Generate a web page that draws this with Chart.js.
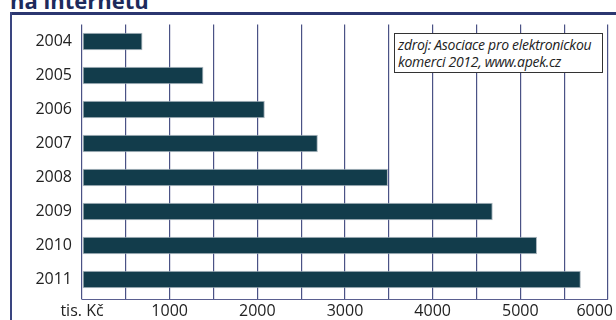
<!DOCTYPE html>
<html><head><meta charset="utf-8">
<script src="https://cdn.jsdelivr.net/npm/chart.js@4/dist/chart.umd.min.js"></script>
<style>
html,body{margin:0;padding:0;background:#fff;overflow:hidden}
#wrap{position:relative;width:616px;height:320px;overflow:hidden;background:#fff}
#title{position:absolute;left:10px;top:-11.5px;font:bold 22px 'Open Sans';line-height:1;color:#1d2a5c;white-space:nowrap}
#frameTop{position:absolute;left:10px;top:12px;width:606px;height:3px;background:#2b3670}
#frameLeft{position:absolute;left:10px;top:12px;width:1.5px;height:308px;background:#3a4580}
canvas{position:absolute;left:0;top:0}
#src{position:absolute;left:394px;top:33px;width:209px;height:40px;border:1px solid #333;background:#fff;font:italic 14px 'Open Sans';line-height:17px;color:#222;padding:2px 0 0 3px;box-sizing:border-box;white-space:nowrap;letter-spacing:-0.3px}
</style></head>
<body><div id="wrap">
<div id="title">na internetu</div>
<div id="frameTop"></div><div id="frameLeft"></div>
<canvas id="c" width="616" height="320"></canvas>
<div id="src">zdroj: Asociace pro elektronickou<br>komerci 2012, www.apek.cz</div>
</div>
<script>
const years = ['2004','2005','2006','2007','2008','2009','2010','2011'];
const values = [690, 1385, 2085, 2690, 3490, 4685, 5190, 5690];
const tickValues = [0, 1000, 2000, 3000, 4000, 5000, 6000];
const tickLabels = ['tis. Kč', '1000', '2000', '3000', '4000', '5000', '6000'];

const xLabelsPlugin = {
  id: 'xLabels',
  afterDraw(chart) {
    const ctx = chart.ctx, xs = chart.scales.x, area = chart.chartArea;
    ctx.save();
    ctx.strokeStyle = '#5a5f90';
    ctx.lineWidth = 1.2;
    ctx.beginPath();
    ctx.moveTo(area.left, area.bottom + 3);
    ctx.lineTo(area.right, area.bottom + 3);
    ctx.stroke();
    ctx.font = '16px "Open Sans"';
    ctx.fillStyle = '#222';
    ctx.textBaseline = 'middle';
    ctx.textAlign = 'center';
    tickValues.forEach((v, i) => {
      const t = tickLabels[i];
      let x = xs.getPixelForValue(v);
      const w = ctx.measureText(t).width;
      if (x + w / 2 > 613) x = 613 - w / 2;
      ctx.fillText(t, x, 311);
    });
    ctx.restore();
  }
};

new Chart(document.getElementById('c'), {
  type: 'bar',
  data: {
    labels: years,
    datasets: [{
      data: values,
      backgroundColor: '#123c4b',
      borderColor: '#aab6be',
      borderWidth: 1,
      borderSkipped: false,
      barPercentage: 0.515,
      categoryPercentage: 1
    }]
  },
  options: {
    indexAxis: 'y',
    responsive: false,
    animation: false,
    devicePixelRatio: 1,
    layout: { padding: { left: 0, right: 8, top: 24.5, bottom: 0 } },
    plugins: { legend: { display: false }, tooltip: { enabled: false } },
    scales: {
      x: {
        min: 0, max: 6000,
        ticks: { display: false, stepSize: 500 },
        grid: { color: '#4a5285', lineWidth: 1.2, drawTicks: true, tickLength: 3 },
        border: { display: false },
        afterFit(s) { s.height = 23.5; }
      },
      y: {
        grid: { display: false, drawTicks: false },
        border: { display: false },
        ticks: { color: '#222', font: { family: 'Open Sans', size: 16 }, padding: 10 },
        afterFit(s) { s.width = 82; }
      }
    }
  },
  plugins: [xLabelsPlugin]
});
</script>
</body></html>
